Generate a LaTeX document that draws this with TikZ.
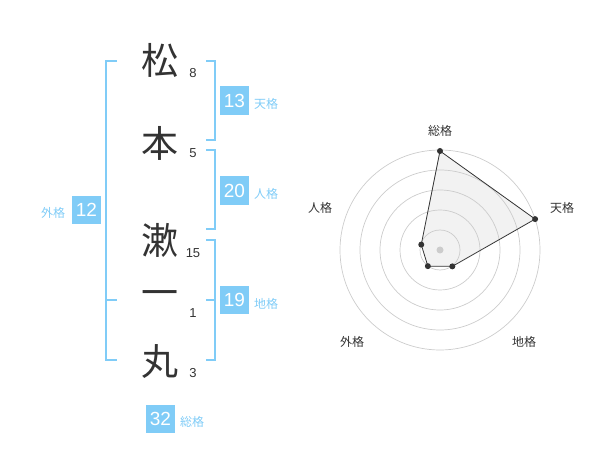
\documentclass[tikz,border=0pt]{standalone}
\usepackage{fontspec}
\setmainfont{Liberation Sans}
\newfontfamily\cjk{Noto Sans CJK JP}
\definecolor{kblue}{HTML}{80CCF7}
\definecolor{ktext}{HTML}{333333}
\definecolor{kgrid}{HTML}{CCCCCC}
\definecolor{kfill}{HTML}{F2F2F2}
\begin{document}
\begin{tikzpicture}[x=1pt,y=-1pt,
  kanji/.style={font=\cjk\fontsize{37}{37}\selectfont,text=ktext,inner sep=0pt},
  strokes/.style={font=\fontsize{13}{13}\selectfont,text=ktext,inner sep=0pt},
  numbox/.style={fill=kblue,text=white,minimum width=28.5pt,minimum height=28.5pt,inner sep=0pt,font=\fontsize{19}{19}\selectfont},
  kaku/.style={text=kblue,font=\cjk\fontsize{12}{12}\selectfont,inner sep=0pt},
  brk/.style={draw=kblue,line width=2pt},
  ring/.style={draw=kgrid,line width=0.7pt},
  rlabel/.style={text=ktext,font=\cjk\fontsize{12}{12}\selectfont,inner sep=0pt},
  dot/.style={circle,fill=ktext,inner sep=0pt,minimum size=6pt}
]
\useasboundingbox (0,0) rectangle (600,470);
% characters
\node[kanji] (c1) at (160,60) {松};
\node[kanji] (c2) at (160,143) {本};
\node[kanji] (c3) at (160,240) {漱};
\node[kanji] (c4) at (160,299) {一};
\node[kanji] (c5) at (160,362) {丸};
\node[strokes] (s1) at (193,73) {8};
\node[strokes] (s2) at (193,153) {5};
\node[strokes] (s3) at (193,253) {15};
\node[strokes] (s4) at (193,313) {1};
\node[strokes] (s5) at (193,373) {3};
% brackets
\draw[brk] (117,61) -- (106,61) -- (106,360) -- (117,360);
\draw[brk] (106,300) -- (117,300);
\draw[brk] (206,61) -- (215,61) -- (215,140) -- (206,140);
\draw[brk] (206,150) -- (215,150) -- (215,229) -- (206,229);
\draw[brk] (206,240) -- (215,240) -- (215,360) -- (206,360);
\draw[brk] (206,300) -- (215,300);
% boxes
\node[numbox] (b12) at (86.5,210) {12};
\node[kaku] (l12) at (53,213) {外格};
\node[numbox] (b13) at (234.5,100.5) {13};
\node[kaku] (l13) at (266,104) {天格};
\node[numbox] (b20) at (234.5,190.5) {20};
\node[kaku] (l20) at (266,194) {人格};
\node[numbox] (b19) at (234.5,300) {19};
\node[kaku] (l19) at (266,304) {地格};
\node[numbox] (b32) at (160.5,419) {32};
\node[kaku] (l32) at (192,422) {総格};
% radar
\begin{scope}[shift={(440,250)},yscale=-1]
  \coordinate (p1) at (90:99);
  \coordinate (p2) at (18:100);
  \coordinate (p3) at (-53:20.5);
  \coordinate (p4) at (-127:20.2);
  \coordinate (p5) at (164:19.5);
  \fill[kfill] (p1) -- (p2) -- (p3) -- (p4) -- (p5) -- cycle;
  \foreach \r in {20,40,60,80,100} \draw[ring] (0,0) circle (\r);
  \fill[kgrid] (0,0) circle (3.5);
  \draw[draw=ktext,line width=0.8pt] (p1) -- (p2) -- (p3) -- (p4) -- (p5) -- cycle;
  \foreach \p in {p1,p2,p3,p4,p5} \node[dot] at (\p) {};
\end{scope}
\node[rlabel] (r1) at (440,131) {総格};
\node[rlabel] (r2) at (562,208) {天格};
\node[rlabel] (r3) at (320,208) {人格};
\node[rlabel] (r4) at (352,342) {外格};
\node[rlabel] (r5) at (524,342) {地格};
\end{tikzpicture}
\end{document}
